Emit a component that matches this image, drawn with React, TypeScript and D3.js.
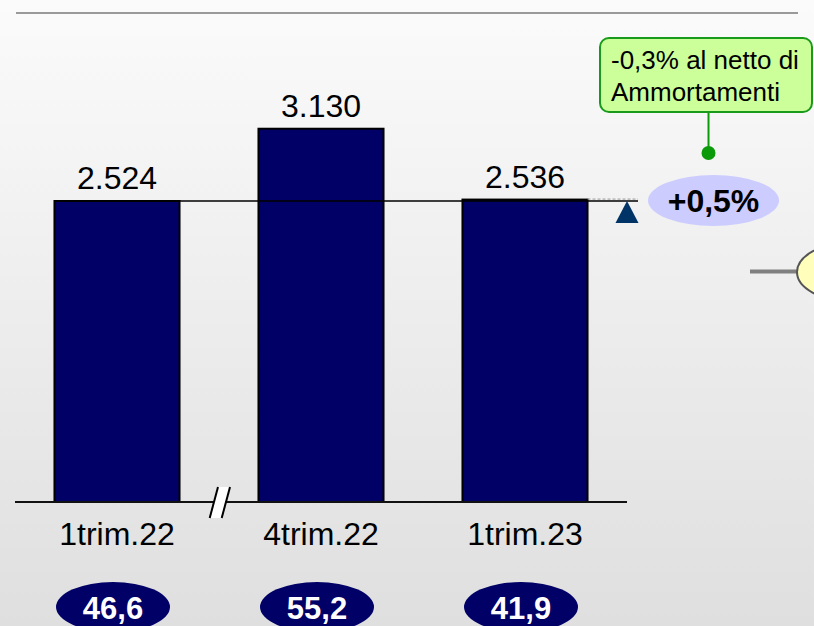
import React from "react";
import * as d3 from "d3";

const categories = ["1trim.22", "4trim.22", "1trim.23"];
const values = [2524, 3130, 2536];
const valueLabels = ["2.524", "3.130", "2.536"];
const bottomLabels = ["46,6", "55,2", "41,9"];
const changeLabel = "+0,5%";
const calloutLines = ["-0,3% al netto di", "Ammortamenti"];

const W = 814;
const H = 626;
const FONT = "Liberation Sans, Arial, sans-serif";

export default function App() {
  const x = d3
    .scaleBand<string>()
    .domain(categories)
    .range([15, 627])
    .paddingInner(0.387)
    .paddingOuter(0.1935);
  const y = d3.scaleLinear().domain([0, 2524]).range([502, 201]);
  const bw = x.bandwidth();

  const refY = y(values[0]);
  const lastX = (x(categories[2]) as number) + bw;
  const lastY = y(values[2]);

  const tri = d3.line()([
    [627, refY],
    [615.5, 223],
    [638.5, 223],
  ]);

  return (
    <svg
      width={W}
      height={H}
      style={{ position: "absolute", left: 0, top: 0 }}
      fontFamily={FONT}
    >
      <defs>
        <linearGradient id="bg" x1="0" y1="0" x2="0" y2="1">
          <stop offset="0" stopColor="#fbfbfb" />
          <stop offset="1" stopColor="#dfdfdf" />
        </linearGradient>
      </defs>
      <rect width={W} height={H} fill="url(#bg)" />
      <line x1={16} x2={798} y1={13} y2={13} stroke="#9a9a9a" strokeWidth={2} />

      {/* bars */}
      {categories.map((c, i) => (
        <rect
          key={c}
          x={x(c)}
          y={y(values[i])}
          width={bw}
          height={y(0) - y(values[i])}
          fill="#000066"
          stroke="#000"
          strokeWidth={2}
        />
      ))}

      {/* reference line */}
      <line x1={x(categories[0])} x2={638} y1={refY} y2={refY} stroke="#000" strokeWidth={1.5} />
      <line
        x1={lastX}
        x2={638}
        y1={lastY - 0.5}
        y2={lastY - 0.5}
        stroke="#999"
        strokeWidth={1}
        strokeDasharray="3,2"
      />
      <path d={tri as string} fill="#003366" />

      {/* axis */}
      <line x1={15} x2={627} y1={y(0)} y2={y(0)} stroke="#111" strokeWidth={2} />
      <path d="M218,487 L230,487 L221.7,518 L209.7,518 Z" fill="#fff" />
      <line x1={218} y1={487} x2={209.7} y2={518} stroke="#000" strokeWidth={2} />
      <line x1={230} y1={487} x2={221.7} y2={518} stroke="#000" strokeWidth={2} />

      {/* value labels */}
      {categories.map((c, i) => (
        <text
          key={c}
          x={(x(c) as number) + bw / 2}
          y={y(values[i]) - 12}
          textAnchor="middle"
          fontSize={32}
          fill="#000"
        >
          {valueLabels[i]}
        </text>
      ))}

      {/* category labels */}
      {categories.map((c) => (
        <text
          key={c}
          x={(x(c) as number) + bw / 2}
          y={545}
          textAnchor="middle"
          fontSize={32}
          fill="#000"
        >
          {c}
        </text>
      ))}

      {/* bottom ellipses */}
      {categories.map((c, i) => (
        <g key={c}>
          <ellipse
            cx={(x(c) as number) + bw / 2 - 4}
            cy={607}
            rx={57}
            ry={25}
            fill="#000066"
          />
          <text
            x={(x(c) as number) + bw / 2 - 4}
            y={619}
            textAnchor="middle"
            fontSize={31}
            fontWeight="bold"
            fill="#fff"
          >
            {bottomLabels[i]}
          </text>
        </g>
      ))}

      {/* change ellipse */}
      <ellipse cx={713.5} cy={200.5} rx={65.5} ry={25.5} fill="#ccccff" />
      <text x={713.5} y={212} textAnchor="middle" fontSize={32} fontWeight="bold" fill="#000">
        {changeLabel}
      </text>

      {/* callout */}
      <line x1={708.5} x2={708.5} y1={112} y2={153} stroke="#0a9a0a" strokeWidth={2} />
      <circle cx={708.5} cy={153} r={7} fill="#0a9a0a" />
      <rect x={600} y={38} width={212} height={74} rx={9} fill="#ccff99" stroke="#1a9a1a" strokeWidth={2} />
      {calloutLines.map((t, i) => (
        <text key={t} x={611} y={69 + i * 31.5} fontSize={26} fill="#000">
          {t}
        </text>
      ))}

      {/* partial right bubble */}
      <line x1={750} x2={798} y1={271.5} y2={271.5} stroke="#808080" strokeWidth={4} />
      <ellipse cx={850} cy={272} rx={53} ry={29} fill="#ffffbb" stroke="#555" strokeWidth={2} />
    </svg>
  );
}
